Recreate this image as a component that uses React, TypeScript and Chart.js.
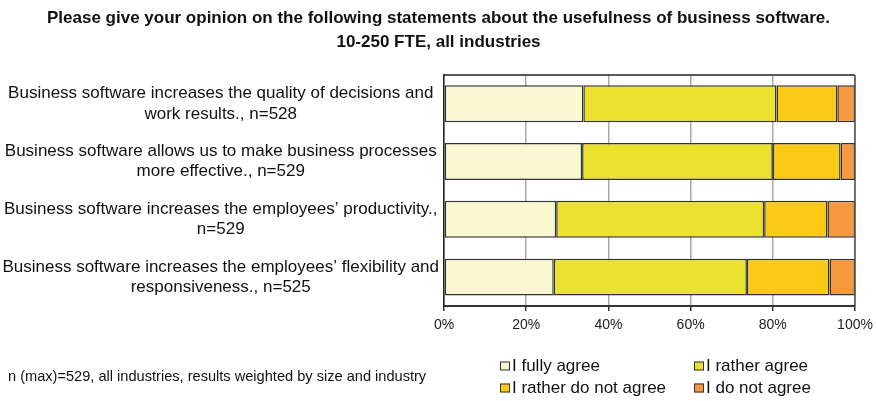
import React, { useEffect, useRef } from "react";
import { Chart, registerables } from "chart.js";

Chart.register(...registerables);

const titleLines = [
  "Please give your opinion on the following statements about the usefulness of business software.",
  "10-250 FTE, all industries",
];

const categories: string[][] = [
  ["Business software increases the quality of decisions and", "work results., n=528"],
  ["Business software allows us to make business processes", "more effective., n=529"],
  ["Business software increases the employees\u2019 productivity.,", "n=529"],
  ["Business software increases the employees\u2019 flexibility and", "responsiveness., n=525"],
];

const seriesNames = ["I fully agree", "I rather agree", "I rather do not agree", "I do not agree"];
const fullyAgree = [33.9, 33.6, 27.3, 26.7];
const ratherAgree = [47.0, 46.4, 50.6, 47.0];
const ratherNotAgree = [14.8, 16.5, 15.4, 20.1];
const notAgree = [4.3, 3.5, 6.7, 6.2];
const seriesColors = ["#FAF8D0", "#EAE22E", "#FBCA17", "#F6983E"];

const xTicks = [0, 20, 40, 60, 80, 100];
const footnote = "n (max)=529, all industries, results weighted by size and industry";

const FONT = "'Liberation Sans', Arial, sans-serif";

export default function App() {
  const ref = useRef<HTMLCanvasElement | null>(null);
  useEffect(() => {
    if (!ref.current) return;
    const series = [fullyAgree, ratherAgree, ratherNotAgree, notAgree];
    const framePlugin = {
      id: "frame",
      afterDatasetsDraw(chart: any) {
        const { ctx, chartArea } = chart;
        ctx.save();
        ctx.strokeStyle = "#222";
        ctx.lineWidth = 1.5;
        ctx.beginPath();
        ctx.moveTo(chartArea.left, chartArea.top);
        ctx.lineTo(chartArea.right, chartArea.top);
        ctx.stroke();
        ctx.strokeStyle = "#555";
        ctx.beginPath();
        ctx.moveTo(chartArea.right, chartArea.top);
        ctx.lineTo(chartArea.right, chartArea.bottom);
        ctx.stroke();
        ctx.restore();
      },
      afterDraw(chart: any) {
        const { ctx } = chart;
        ctx.save();
        ctx.fillStyle = "#111";
        ctx.font = `14.6px ${FONT}`;
        ctx.textBaseline = "middle";
        ctx.textAlign = "left";
        ctx.fillText(footnote, 8, 377);
        const cols = [500, 694];
        const rows = [366, 388];
        chart.data.datasets.forEach((ds: any, i: number) => {
          const x = cols[i % 2];
          const y = rows[Math.floor(i / 2)];
          ctx.fillStyle = ds.backgroundColor;
          ctx.fillRect(x, y - 4.5, 10, 9);
          ctx.strokeStyle = "#333";
          ctx.lineWidth = 1;
          ctx.strokeRect(x + 0.5, y - 4, 9, 8);
          ctx.fillStyle = "#111";
          ctx.font = `17px ${FONT}`;
          ctx.fillText(ds.label, x + 12, y);
        });
        ctx.restore();
      },
    };
    const chart = new Chart(ref.current, {
      type: "bar",
      data: {
        labels: categories,
        datasets: series.map((d, i) => ({
          label: seriesNames[i],
          data: d,
          backgroundColor: seriesColors[i],
          borderColor: "#333",
          borderWidth: 1.5,
          borderSkipped: false,
          barPercentage: 0.64,
          categoryPercentage: 1,
        })),
      },
      options: {
        indexAxis: "y",
        animation: false,
        responsive: false,
        layout: { padding: { left: 0, right: 0, top: 0, bottom: 70 } },
        plugins: {
          legend: { display: false },
          tooltip: { enabled: false },
          title: {
            display: true,
            text: titleLines,
            color: "#111",
            font: { family: FONT, size: 17, weight: "bold", lineHeight: 1.41 },
            padding: { top: 6, bottom: 21 },
          },
        },
        scales: {
          x: {
            stacked: true,
            min: 0,
            max: 100,
            afterBuildTicks: (s: any) => {
              s.ticks = xTicks.map((v) => ({ value: v }));
            },
            afterFit: (s: any) => {
              s.height = 25;
              s.paddingRight = 22;
              s.paddingLeft = 0;
            },
            ticks: {
              callback: (v: any) => `${v}%`,
              color: "#222",
              font: { family: FONT, size: 14 },
              padding: 6,
              maxRotation: 0,
            },
            grid: { color: "#aaa", lineWidth: 1.5, tickColor: "#333", tickLength: 5 },
            border: { color: "#333", width: 2 },
          },
          y: {
            stacked: true,
            afterFit: (s: any) => {
              s.width = 444;
            },
            ticks: {
              crossAlign: "center",
              color: "#111",
              padding: 5,
              font: { family: FONT, size: 17, lineHeight: 1.18 },
            },
            grid: { display: false, drawTicks: false },
            border: { display: true, color: "#222", width: 1.5 },
          },
        },
      },
      plugins: [framePlugin],
    } as any);
    return () => chart.destroy();
  }, []);
  return (
    <div style={{ position: "fixed", left: 0, top: 0, width: 877, height: 401, background: "#fff" }}>
      <canvas ref={ref} width={877} height={401} style={{ width: 877, height: 401 }} />
    </div>
  );
}
